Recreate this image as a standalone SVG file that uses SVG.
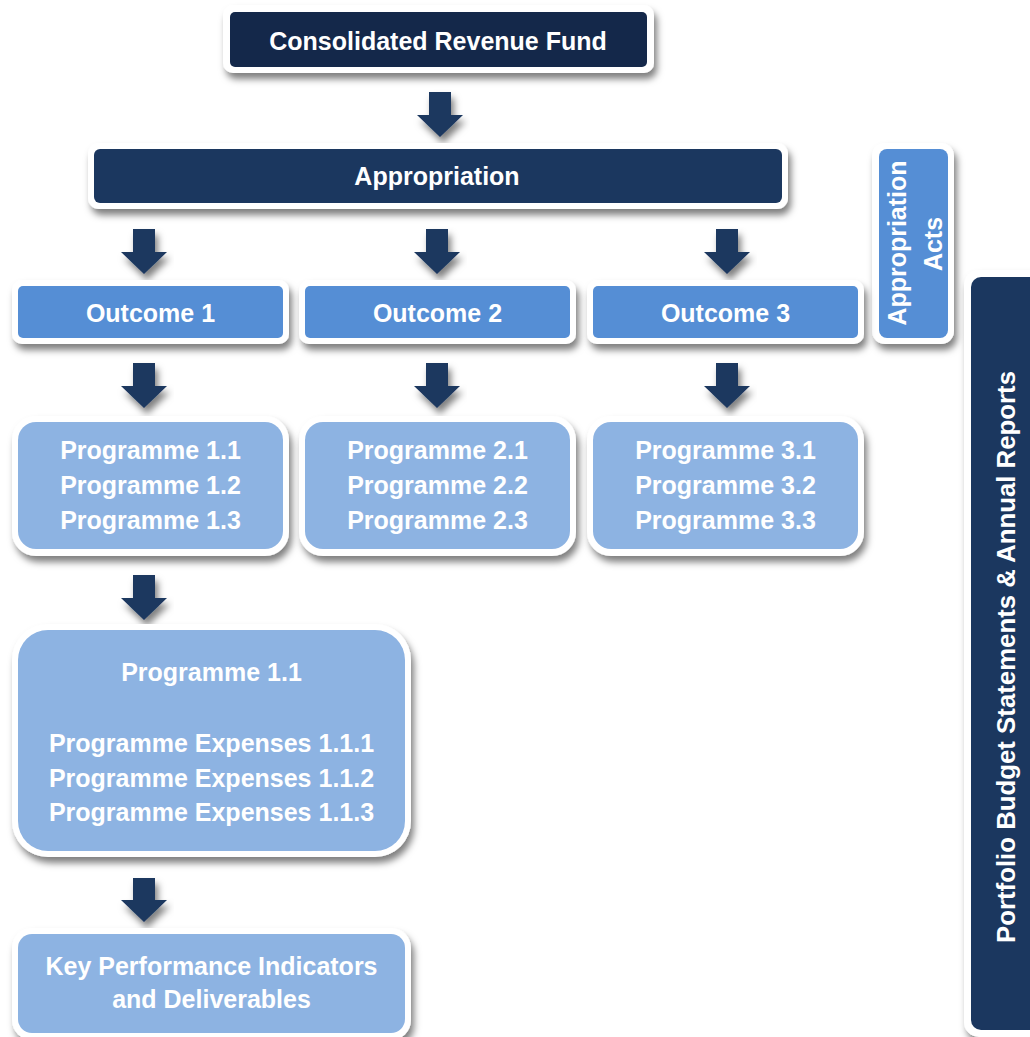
<svg xmlns="http://www.w3.org/2000/svg" width="1030" height="1037" viewBox="0 0 1030 1037">
<defs>
<filter id="sh" x="-10%" y="-20%" width="125%" height="150%">
<feDropShadow dx="3" dy="6" stdDeviation="3.5" flood-color="#000" flood-opacity="0.5"/>
</filter>
<style>
.frame{fill:#ffffff;filter:url(#sh)}
.dark{fill:#1b375f}
.darker{fill:#14284a}
.mid{fill:#558ed5}
.light{fill:#8db3e2}
.arrow{fill:#1b375f;filter:url(#sh)}
text{font-family:"Liberation Sans",Arial,sans-serif;font-weight:bold;fill:#ffffff;text-anchor:middle;font-size:25px}
</style>
</defs>
<rect width="1030" height="1037" fill="#ffffff"/>
<g id="connectors">
<path class="arrow" d="M429,92 h22 v23 h12 l-23,22 l-23,-22 h12 z"/>
<path class="arrow" d="M133,229 h22 v23 h12 l-23,22 l-23,-22 h12 z"/>
<path class="arrow" d="M426,229 h22 v23 h12 l-23,22 l-23,-22 h12 z"/>
<path class="arrow" d="M716,229 h22 v23 h12 l-23,22 l-23,-22 h12 z"/>
<path class="arrow" d="M133,363 h22 v23 h12 l-23,22 l-23,-22 h12 z"/>
<path class="arrow" d="M426,363 h22 v23 h12 l-23,22 l-23,-22 h12 z"/>
<path class="arrow" d="M716,363 h22 v23 h12 l-23,22 l-23,-22 h12 z"/>
<path class="arrow" d="M133,575 h22 v23 h12 l-23,22 l-23,-22 h12 z"/>
<path class="arrow" d="M133,878 h22 v22 h12 l-23,22 l-23,-22 h12 z"/>
</g>
<g id="crf">
<rect class="frame" x="223" y="5" width="431" height="68" rx="10"/>
<rect class="darker" x="230" y="12" width="417" height="55" rx="5"/>
<text x="438" y="50">Consolidated Revenue Fund</text>
</g>
<g id="appropriation">
<rect class="frame" x="88" y="143" width="700" height="66" rx="11"/>
<rect class="dark" x="94" y="149" width="688" height="54" rx="6"/>
<text x="437" y="185">Appropriation</text>
</g>
<g id="acts">
<rect class="frame" x="872" y="143" width="82" height="201" rx="13"/>
<rect class="mid" x="879" y="149" width="69" height="189" rx="8"/>
<text transform="translate(906,243) rotate(-90)" font-size="24" textLength="165" lengthAdjust="spacingAndGlyphs">Appropriation</text>
<text transform="translate(942,244) rotate(-90)" font-size="24">Acts</text>
</g>
<g id="outcome1">
<rect class="frame" x="12" y="280" width="277" height="64" rx="10"/>
<rect class="mid" x="18" y="286" width="265" height="52" rx="5"/>
<text x="150.5" y="322">Outcome 1</text>
</g>
<g id="outcome2">
<rect class="frame" x="299" y="280" width="277" height="64" rx="10"/>
<rect class="mid" x="305" y="286" width="265" height="52" rx="5"/>
<text x="437.5" y="322">Outcome 2</text>
</g>
<g id="outcome3">
<rect class="frame" x="587" y="280" width="277" height="64" rx="10"/>
<rect class="mid" x="593" y="286" width="265" height="52" rx="5"/>
<text x="725.5" y="322">Outcome 3</text>
</g>
<g id="programmes1">
<rect class="frame" x="12" y="416" width="277" height="140" rx="24"/>
<rect class="light" x="18" y="422" width="265" height="127" rx="18"/>
<text x="150.5" y="459">Programme 1.1</text>
<text x="150.5" y="494">Programme 1.2</text>
<text x="150.5" y="529">Programme 1.3</text>
</g>
<g id="programmes2">
<rect class="frame" x="299" y="416" width="277" height="140" rx="24"/>
<rect class="light" x="305" y="422" width="265" height="127" rx="18"/>
<text x="437.5" y="459">Programme 2.1</text>
<text x="437.5" y="494">Programme 2.2</text>
<text x="437.5" y="529">Programme 2.3</text>
</g>
<g id="programmes3">
<rect class="frame" x="587" y="416" width="277" height="140" rx="24"/>
<rect class="light" x="593" y="422" width="265" height="127" rx="18"/>
<text x="725.5" y="459">Programme 3.1</text>
<text x="725.5" y="494">Programme 3.2</text>
<text x="725.5" y="529">Programme 3.3</text>
</g>
<g id="programme11">
<rect class="frame" x="12" y="624" width="399" height="233" rx="36"/>
<rect class="light" x="18" y="630" width="387" height="221" rx="30"/>
<text x="211.5" y="681">Programme 1.1</text>
<text x="211.5" y="752">Programme Expenses 1.1.1</text>
<text x="211.5" y="787">Programme Expenses 1.1.2</text>
<text x="211.5" y="821">Programme Expenses 1.1.3</text>
</g>
<g id="kpi">
<rect class="frame" x="12" y="928" width="399" height="112" rx="20"/>
<rect class="light" x="18" y="934" width="387" height="99" rx="14"/>
<text x="211.5" y="975">Key Performance Indicators</text>
<text x="211.5" y="1008">and Deliverables</text>
</g>
<g id="portfolio">
<rect class="frame" x="964" y="270" width="80" height="767" rx="15"/>
<rect class="dark" x="971" y="277" width="70" height="753" rx="10"/>
<text transform="translate(1015,657) rotate(-90)" font-size="27" textLength="572" lengthAdjust="spacingAndGlyphs">Portfolio Budget Statements  &amp;  Annual Reports</text>
</g>
</svg>
